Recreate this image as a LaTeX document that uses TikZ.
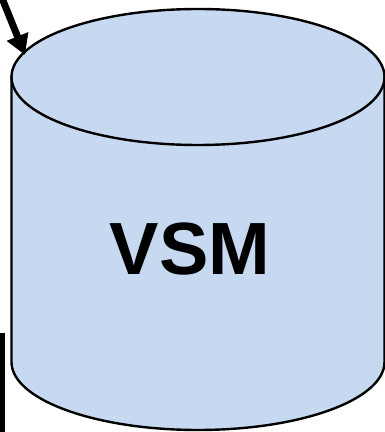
\documentclass[tikz,border=0pt]{standalone}
\usepackage{fontspec}
\setmainfont{Liberation Sans}
\usetikzlibrary{arrows.meta}
\definecolor{cylfill}{RGB}{198,217,240}
\tikzset{
  cylpart/.style={fill=cylfill, draw=black, line width=2.4pt},
  pointer/.style={line width=7pt, -{Triangle[length=20pt,width=22pt]}},
  lbl/.style={font=\bfseries\fontsize{74}{80}\selectfont, inner sep=0pt, anchor=base}
}
\begin{document}
\begin{tikzpicture}[x=1pt,y=1pt]
\useasboundingbox (0,0) rectangle (385,432);
% cylinder body
\path[cylpart] (11.5,355) -- (11.5,70) arc (180:360:186.5pt and 68pt) -- (384.5,355) -- cycle;
% top cap
\path[cylpart] (198,355) ellipse (186.5pt and 68pt);
\node[lbl] (vsm) at (190,157) {VSM};
% incoming arrow
\coordinate (from) at (-0.5,440);
\coordinate (tip) at (25,377);
\draw[pointer] (from) -- (tip);
% left bar
\coordinate (barTop) at (2.5,99);
\coordinate (barBot) at (2.5,-5);
\draw[line width=5pt] (barTop) -- (barBot);
\end{tikzpicture}
\end{document}
